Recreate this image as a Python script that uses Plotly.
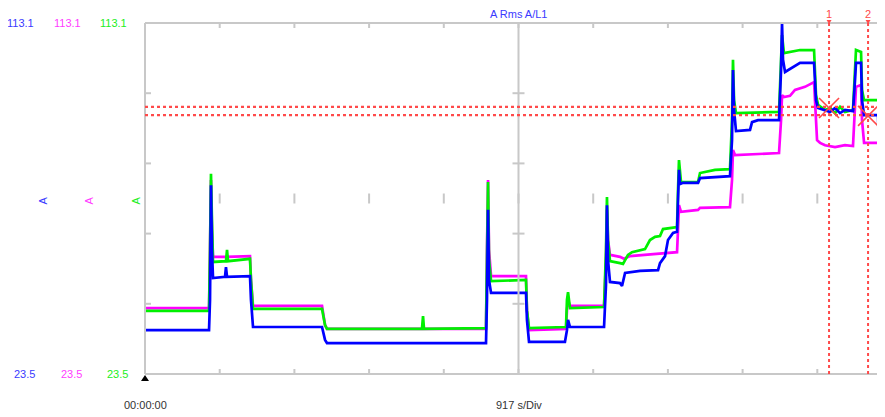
import plotly.graph_objects as go

# ---------------- data (time in s, current in A) ----------------
S_PER_DIV = 917
Y_MIN, Y_MAX = 23.5, 113.1

blue = [(0,34.7),(786,34.7),(798,42.4),(810,71.7),(822,55.2),(835,48.0),(982,48.3),(994,50.8),(1007,48.3),
        (1289,48.5),(1301,42.4),(1326,35.5),(2173,35.5),(2210,32.2),(2234,31.4),(4186,31.4),(4198,42.4),
        (4211,65.4),(4223,47.5),(4248,44.2),(4677,44.2),(4689,37.3),(4714,31.7),(5155,31.7),(5180,34.7),
        (5193,37.3),(5217,35.5),(5635,35.5),(5659,46.2),(5671,66.6),(5684,52.6),(5708,47.0),(5831,46.7),
        (5856,46.0),(5893,49.3),(6077,49.8),(6298,50.0),(6322,51.8),(6384,53.6),(6420,57.7),(6482,59.5),
        (6531,59.8),(6543,67.9),(6555,75.6),(6568,72.0),(6605,72.3),(6789,72.3),(6813,73.5),(7181,74.0),
        (7206,83.2),(7218,101.1),(7231,90.9),(7255,85.5),(7427,85.8),(7452,87.8),(7525,88.3),(7783,88.3),
        (7808,101.1),(7820,113.1),(7832,103.7),(7857,100.6),(7979,102.1),(8041,102.9),(8213,102.9),
        (8237,93.4),(8262,91.4),(8348,90.9),(8409,90.4),(8471,91.4),(8532,90.1),(8593,90.9),(8691,90.6),
        (8716,98.5),(8728,102.9),(8790,102.9),(8802,93.4),(8827,89.6),(8999,89.6),(9011,78.1),(9023,49.3)]

green = [(0,39.6),(786,39.6),(798,55.2),(810,74.6),(822,62.8),(835,52.1),(994,52.3),(1007,55.2),(1019,52.3),
         (1289,52.9),(1301,47.5),(1326,40.1),(2173,40.1),(2210,36.0),(2234,35.0),(3400,35.0),(3413,38.3),
         (3425,35.0),(4186,35.2),(4198,55.2),(4211,72.5),(4223,52.6),(4248,47.2),(4677,47.5),(4689,39.8),
         (4714,35.2),(5168,35.5),(5180,42.4),(5193,44.4),(5217,40.3),(5635,40.6),(5659,55.2),(5671,68.7),
         (5684,57.7),(5708,52.3),(5831,51.8),(5868,51.6),(5929,53.9),(5978,54.6),(6138,55.4),(6199,57.7),
         (6261,58.5),(6322,58.7),(6359,60.5),(6445,60.8),(6531,61.0),(6543,70.5),(6555,78.1),(6580,72.5),
         (6789,72.5),(6813,74.8),(6997,75.6),(7181,75.8),(7206,88.3),(7218,103.7),(7231,93.4),(7255,90.1),
         (7783,90.4),(7808,103.7),(7820,110.0),(7844,105.4),(7918,105.7),(8041,106.2),(8213,106.2),
         (8237,94.7),(8262,92.2),(8348,90.9),(8409,91.4),(8471,90.1),(8532,91.7),(8593,90.4),(8691,90.9),
         (8716,103.7),(8728,106.2),(8790,105.7),(8802,96.0),(8827,93.4),(8999,93.4),(9023,92.7),(9072,93.4)]

magenta = [(0,40.3),(786,40.3),(798,55.2),(810,73.0),(822,60.3),(835,53.4),(994,53.4),(1289,53.6),
           (1301,47.5),(1326,40.9),(2173,40.9),(2210,36.0),(2234,35.0),(4186,35.0),(4198,55.2),(4211,73.0),
           (4223,55.2),(4248,48.5),(4677,48.5),(4689,39.8),(4714,34.7),(5168,35.0),(5180,39.8),(5193,42.4),
           (5217,40.9),(5635,40.9),(5659,52.6),(5671,65.4),(5684,57.7),(5708,53.9),(5831,53.4),(5880,52.9),
           (5954,53.6),(6199,54.1),(6445,54.6),(6531,54.6),(6543,60.3),(6555,66.6),(6580,64.9),(6789,65.4),
           (6813,65.9),(7181,66.1),(7206,73.0),(7218,80.7),(7243,79.4),(7783,79.9),(7808,88.3),(7820,94.7),
           (7844,94.2),(7918,94.5),(7979,96.0),(8102,96.8),(8213,98.0),(8225,93.4),(8250,83.2),(8287,82.5),
           (8348,81.9),(8471,81.4),(8593,81.9),(8691,81.7),(8716,90.9),(8728,96.8),(8790,97.3),(8802,88.3),
           (8827,82.5),(8999,82.5)]

cursor_levels = [91.7, 89.6]          # horizontal cursor lines (A)
cursor_times = [8397, 8876]           # vertical cursors (s)
cursor_names = ["1", "2"]
cursor_marks = [(8397, 91.4), (8876, 89.4)]

BLUE, MAGENTA, GREEN = "#0000ff", "#ff00ff", "#00f000"
TXT_BLUE, TXT_MAG, TXT_GREEN = "#3a3aff", "#ff3cff", "#22ee22"
GRID = "#c8c8c8"
RED = "#ff4a4a"

X_MAX = 9084
# page has an 8px body margin: figure is drawn 8px right / down of the window origin
OFF = 8
PL, PT = 145 - OFF, 23 - OFF
W, H = 885 - OFF, 417 - OFF
PB = H - (374 - OFF)

fig = go.Figure()
for name, data, col in [("magenta", magenta, MAGENTA), ("green", green, GREEN), ("blue", blue, BLUE)]:
    fig.add_trace(go.Scatter(x=[p[0] for p in data], y=[p[1] for p in data], mode="lines",
                             line=dict(color=col, width=2.7), showlegend=False, hoverinfo="skip"))

fig.add_trace(go.Scatter(x=[p[0] for p in cursor_marks], y=[p[1] for p in cursor_marks], mode="markers",
                         marker=dict(symbol="x-thin", size=20, line=dict(color=RED, width=1.6)),
                         showlegend=False, hoverinfo="skip"))

shapes = []
# frame
shapes.append(dict(type="line", xref="paper", yref="paper", x0=0, x1=0, y0=0, y1=1, line=dict(color=GRID, width=2)))
shapes.append(dict(type="line", xref="paper", yref="paper", x0=0, x1=1, y0=1, y1=1, line=dict(color=GRID, width=2)))
shapes.append(dict(type="line", xref="paper", yref="paper", x0=0, x1=1, y0=0, y1=0, line=dict(color=GRID, width=2)))
# centre vertical
shapes.append(dict(type="line", xref="x", yref="paper", x0=5*S_PER_DIV, x1=5*S_PER_DIV, y0=0, y1=1,
                   line=dict(color=GRID, width=2)))
ydiv = (Y_MAX - Y_MIN) / 5
ymid = (Y_MAX + Y_MIN) / 2
for k in range(1, 10):
    xv = k * S_PER_DIV
    shapes.append(dict(type="line", xref="x", yref="paper", ysizemode="pixel", yanchor=1, x0=xv, x1=xv, y0=0, y1=-5,
                       line=dict(color=GRID, width=2)))
    shapes.append(dict(type="line", xref="x", yref="paper", ysizemode="pixel", yanchor=0, x0=xv, x1=xv, y0=0, y1=5,
                       line=dict(color=GRID, width=2)))
    shapes.append(dict(type="line", xref="x", yref="y", ysizemode="pixel", yanchor=ymid, x0=xv, x1=xv, y0=-5, y1=5,
                       line=dict(color=GRID, width=2)))
for k in range(1, 5):
    yv = Y_MIN + k * ydiv
    shapes.append(dict(type="line", xref="paper", yref="y", xsizemode="pixel", xanchor=0, x0=0, x1=6, y0=yv, y1=yv,
                       line=dict(color=GRID, width=2)))
    shapes.append(dict(type="line", xref="x", yref="y", xsizemode="pixel", xanchor=5*S_PER_DIV, x0=-6, x1=6,
                       y0=yv, y1=yv, line=dict(color=GRID, width=2)))
# cursors
for lv in cursor_levels:
    shapes.append(dict(type="line", xref="paper", yref="y", x0=0, x1=1, y0=lv, y1=lv,
                       line=dict(color=RED, width=2.2, dash="dot")))
for ct in cursor_times:
    shapes.append(dict(type="line", xref="x", yref="paper", x0=ct, x1=ct, y0=0, y1=1,
                       line=dict(color=RED, width=2, dash="dot")))
    shapes.append(dict(type="path", xref="x", yref="paper", xsizemode="pixel", ysizemode="pixel",
                       xanchor=ct, yanchor=1, path="M -2.5,3 L 2.5,3 L 0,-1 Z", fillcolor=RED,
                       line=dict(width=0)))
# origin marker
shapes.append(dict(type="path", xref="paper", yref="paper", xsizemode="pixel", ysizemode="pixel",
                   xanchor=0, yanchor=0, path="M -4,-7 L 4,-7 L 0,-1 Z", fillcolor="#000000",
                   line=dict(width=0)))

FONT = "Liberation Sans, Arial, sans-serif"
ann = []
for col, cx in [(TXT_BLUE, 20), (TXT_MAG, 67), (TXT_GREEN, 113)]:
    ann.append(dict(text="113.1", xref="paper", yref="paper", x=0, y=1, xshift=cx - 145, yshift=0, showarrow=False,
                    xanchor="center", yanchor="middle", font=dict(family=FONT, size=11, color=col)))
    ann.append(dict(text="23.5", xref="paper", yref="paper", x=0, y=0, xshift=cx + 4 - 145, yshift=0, showarrow=False,
                    xanchor="center", yanchor="middle", font=dict(family=FONT, size=11, color=col)))
for col, cx in [(TXT_BLUE, 43), (TXT_MAG, 89), (TXT_GREEN, 136)]:
    ann.append(dict(text="A", xref="paper", yref="y", x=0, y=ymid - 0.5, xshift=cx - 145, showarrow=False,
                    xanchor="center", yanchor="middle", textangle=-90,
                    font=dict(family=FONT, size=11, color=col)))
ann.append(dict(text="A Rms A/L1", xref="x", yref="paper", x=5*S_PER_DIV, y=1, yshift=9, showarrow=False,
                xanchor="center", yanchor="middle", font=dict(family=FONT, size=11, color=TXT_BLUE)))
ann.append(dict(text="00:00:00", xref="paper", yref="paper", x=0, y=0, yshift=-31, showarrow=False,
                xanchor="center", yanchor="middle", font=dict(family=FONT, size=11, color="#333333")))
ann.append(dict(text="917 s/Div", xref="x", yref="paper", x=5*S_PER_DIV, y=0, yshift=-31, showarrow=False,
                xanchor="center", yanchor="middle", font=dict(family=FONT, size=11, color="#333333")))
for ct, nm in zip(cursor_times, cursor_names):
    ann.append(dict(text=nm, xref="x", yref="paper", x=ct, y=1, yshift=9, showarrow=False,
                    xanchor="center", yanchor="middle", font=dict(family=FONT, size=11, color=RED)))

fig.update_layout(
    width=W, height=H,
    margin=dict(l=PL, r=0, t=PT, b=PB, pad=0),
    paper_bgcolor="white", plot_bgcolor="white",
    xaxis=dict(range=[0, X_MAX], showgrid=False, zeroline=False, showticklabels=False, ticks="",
               showline=False, fixedrange=True),
    yaxis=dict(range=[Y_MIN, Y_MAX], showgrid=False, zeroline=False, showticklabels=False, ticks="",
               showline=False, fixedrange=True),
    shapes=shapes, annotations=ann, showlegend=False,
)
fig.write_html("out.html")
